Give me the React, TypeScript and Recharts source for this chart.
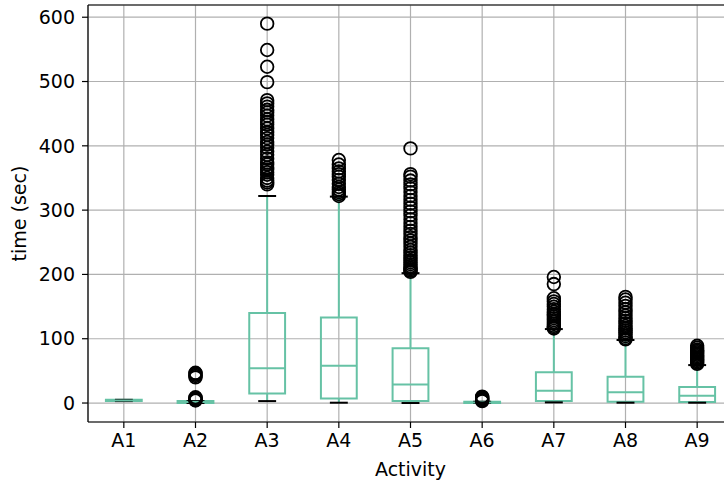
import React from 'react';
import {
  ComposedChart,
  XAxis,
  YAxis,
  CartesianGrid,
  Scatter,
  ReferenceArea,
  ReferenceLine,
} from 'recharts';

// Activities A1..A9 – box stats (seconds)
const categories = ['A1', 'A2', 'A3', 'A4', 'A5', 'A6', 'A7', 'A8', 'A9'];
const q1 = [3, 0, 15, 7, 3, 0, 3, 2, 1.5];
const median = [4, 1.5, 54, 58, 29, 1, 19, 16.6, 11.4];
const q3 = [5, 3, 140, 133, 85, 2, 48, 41, 25];
const whiskerLow = [3, 0, 3, 0.5, 0, 0, 1, 0.5, 0.5];
const whiskerHigh = [5, 3, 322, 321, 202, 2, 115, 98, 59];

const outliers: number[][] = [
  [],
  [4, 5, 6, 7, 8, 9, 40, 42, 44, 46, 47],
  [340, 343, 346, 350, 355, 359, 363, 366, 371, 374, 380, 386, 391, 397, 402, 406, 412, 417,
    421, 427, 433, 437, 441, 447, 452, 456, 461, 466, 471, 499, 523, 549, 590],
  [322, 325, 328, 332, 336, 341, 347, 352, 356, 360, 365, 371, 378],
  [204, 206, 208, 210, 213, 216, 219, 222, 226, 230, 234, 238, 243, 248, 253, 258, 263, 268,
    274, 280, 286, 292, 298, 304, 310, 316, 322, 328, 334, 340, 346, 352, 356, 396],
  [3, 4, 5, 6, 7, 8, 9, 10],
  [116, 118, 120, 123, 126, 129, 132, 135, 138, 142, 146, 150, 154, 158, 163, 185, 196],
  [99, 101, 104, 107, 110, 113, 116, 120, 124, 128, 132, 136, 141, 146, 151, 156, 161, 165],
  [61, 63, 65, 67, 69, 71, 73, 75, 77, 79, 81, 83, 86, 89],
];

const yTicks = [0, 100, 200, 300, 400, 500, 600];

const Y_MIN = -29.5;
const Y_MAX = 619;
const BOX = '#66c2a5';
const FONT = 'DejaVu Sans';

const fliers = outliers.flatMap((vals, i) => vals.map((v) => ({ x: i + 1, y: v })));

const FlierShape = (props: any) => (
  <circle cx={props.cx} cy={props.cy} r={6.3} fill="none" stroke="#000" strokeWidth={1.8} />
);

export default function App() {
  const tickStyle = { fontFamily: FONT, fontSize: 19, fill: '#000' };

  return (
    <div style={{ position: 'absolute', left: 0, top: 0, width: 724, height: 484, overflow: 'hidden', background: '#fff' }}>
      <ComposedChart width={760} height={484} margin={{ top: 5, right: 27, bottom: 0, left: 0 }}>
        <CartesianGrid stroke="#b0b0b0" strokeWidth={1.2} />
        <XAxis
          type="number"
          dataKey="x"
          domain={[0.5, 9.5]}
          ticks={categories.map((_, i) => i + 1)}
          tickFormatter={(v: number) => categories[v - 1]}
          allowDataOverflow
          height={62}
          tickSize={6}
          tickMargin={6}
          tick={tickStyle}
          axisLine={{ stroke: '#000', strokeWidth: 1.2 }}
          tickLine={{ stroke: '#000', strokeWidth: 1.2 }}
          label={{ value: 'Activity', position: 'insideBottom', offset: 8, style: tickStyle }}
        />
        <YAxis
          type="number"
          dataKey="y"
          domain={[Y_MIN, Y_MAX]}
          ticks={yTicks}
          allowDataOverflow
          width={88}
          tickSize={6}
          tickMargin={7}
          tick={tickStyle}
          axisLine={{ stroke: '#000', strokeWidth: 1.2 }}
          tickLine={{ stroke: '#000', strokeWidth: 1.2 }}
          label={{ value: 'time (sec)', angle: -90, position: 'insideLeft', offset: 19, textAnchor: 'middle', style: { ...tickStyle, textAnchor: 'middle' } }}
        />
        <ReferenceLine y={Y_MAX} stroke="#000" strokeWidth={1.2} />

        {categories.map((c, i) => {
          const p = i + 1;
          return (
            <React.Fragment key={c}>
              <ReferenceArea x1={p - 0.25} x2={p + 0.25} y1={q1[i]} y2={q3[i]} fill="none" stroke={BOX} strokeWidth={2} fillOpacity={0} />
              <ReferenceLine segment={[{ x: p, y: whiskerLow[i] }, { x: p, y: q1[i] }]} stroke={BOX} strokeWidth={2} />
              <ReferenceLine segment={[{ x: p, y: q3[i] }, { x: p, y: whiskerHigh[i] }]} stroke={BOX} strokeWidth={2} />
              <ReferenceLine segment={[{ x: p - 0.125, y: whiskerLow[i] }, { x: p + 0.125, y: whiskerLow[i] }]} stroke="#000" strokeWidth={2} />
              <ReferenceLine segment={[{ x: p - 0.125, y: whiskerHigh[i] }, { x: p + 0.125, y: whiskerHigh[i] }]} stroke="#000" strokeWidth={2} />
              <ReferenceLine segment={[{ x: p - 0.25, y: median[i] }, { x: p + 0.25, y: median[i] }]} stroke={BOX} strokeWidth={2} />
            </React.Fragment>
          );
        })}

        <Scatter data={fliers} shape={FlierShape} isAnimationActive={false} />
      </ComposedChart>
    </div>
  );
}
